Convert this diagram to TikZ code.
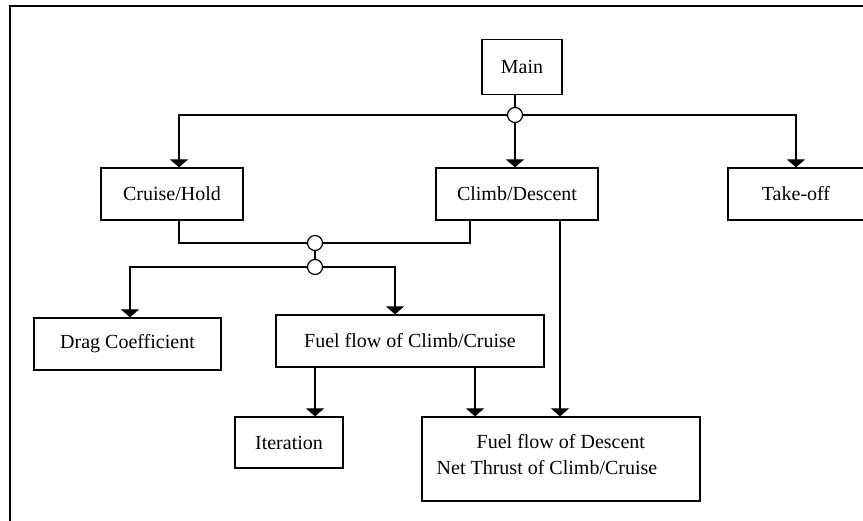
\documentclass[tikz,border=0pt]{standalone}
\usepackage{fontspec}
\setmainfont{Liberation Serif}
\usetikzlibrary{arrows.meta}
\begin{document}
\begin{tikzpicture}[x=1pt,y=-1pt,
  box/.style={draw,line width=1.3pt,inner sep=0pt,font=\fontsize{20}{26}\selectfont},
  junc/.style={draw,fill=white,circle,line width=1.2pt,minimum size=15pt,inner sep=0pt},
  link/.style={line width=1.2pt},
  arr/.style={line width=1.2pt,-{Triangle[width=18pt,length=8pt]}}]
\useasboundingbox (0,0) rectangle (863,520);
\clip (0,0) rectangle (863,520);
\draw[line width=1.5pt] (10,6) rectangle (890,540);
% nodes
\node[box,minimum width=80pt,minimum height=55pt] (main) at (522,67) {Main};
\node[box,minimum width=142pt,minimum height=52pt] (cruise) at (172,194) {Cruise/Hold};
\node[box,minimum width=162pt,minimum height=52pt] (climb) at (517,194) {Climb/Descent};
\node[box,minimum width=136pt,minimum height=52pt] (takeoff) at (796,194) {Take-off};
\node[box,minimum width=187pt,minimum height=52pt] (drag) at (127.5,344) {Drag Coefficient};
\node[box,minimum width=268pt,minimum height=52pt] (ffcc) at (410,341) {Fuel flow of Climb/Cruise};
\node[box,minimum width=108pt,minimum height=51pt] (iter) at (289,442.5) {Iteration};
\node[box,minimum width=278pt,minimum height=84pt] (bot) at (561,459) {};
\node[font=\fontsize{20}{26}\selectfont,align=left,inner sep=0pt] (bottxt) at (547,455)
  {\hspace*{40pt}Fuel flow of Descent\\Net Thrust of Climb/Cruise};
\node[junc] (j1) at (515,115) {};
\node[junc] (j2) at (315,243) {};
\node[junc] (j3) at (315,267) {};
% connectors
\draw[link] (main.south -| j1) -- (j1.north);
\draw[arr] (j1.west) -| ([xshift=7pt]cruise.north);
\draw[arr] (j1.south) -- (j1 |- climb.north);
\draw[arr] (j1.east) -| (takeoff.north);
\draw[link] ([xshift=7pt]cruise.south) |- (j2.west);
\draw[link] ([xshift=-47pt]climb.south) |- (j2.east);
\draw[link] (j2.south) -- (j3.north);
\draw[arr] (j3.west) -| ([xshift=2.5pt]drag.north);
\draw[arr] (j3.east) -| ([xshift=-15pt]ffcc.north);
\draw[arr] ([xshift=43pt]climb.south) -- ([xshift=-1pt]bot.north);
\draw[arr] ([xshift=-95pt]ffcc.south) -- ([xshift=26pt]iter.north);
\draw[arr] ([xshift=65pt]ffcc.south) -- ([xshift=-86pt]bot.north);
\end{tikzpicture}
\end{document}
